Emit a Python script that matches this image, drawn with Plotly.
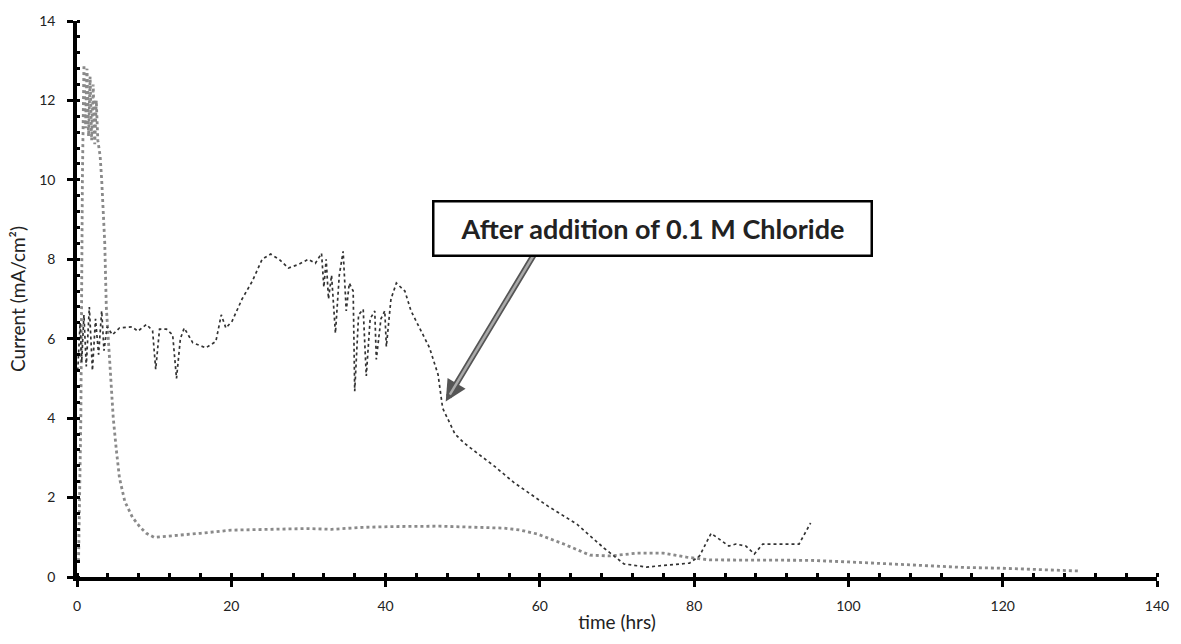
import plotly.graph_objects as go

# Series 1 (gray, initial high peak)
t_gray = [0.2, 0.5, 0.7, 0.9, 1.1, 1.3, 1.5, 1.7, 1.9, 2.1, 2.3, 2.5, 2.7, 3.0, 3.2, 3.6, 3.8, 4.25, 4.7,
          5.1, 5.5, 6.2, 7.2, 8.2, 9.0, 10.0, 11.5, 13, 16, 20, 25, 30, 33, 37, 41, 47, 52,
          55.4, 57.5, 59.7, 63.1, 66.5, 69.1, 72.6, 76, 79, 82, 89, 95, 100, 106, 110, 115,
          120, 125, 130]
i_gray = [0.4, 4.0, 10.0, 12.9, 11.3, 12.8, 11.1, 12.6, 11.0, 12.4, 10.9, 12.0, 11.0, 10.6, 10.0, 8.4, 6.8, 5.3, 4.0,
          3.2, 2.5, 1.9, 1.5, 1.25, 1.1, 1.0, 1.02, 1.05, 1.1, 1.18, 1.2, 1.22, 1.2, 1.25, 1.27, 1.28, 1.25,
          1.23, 1.18, 1.08, 0.83, 0.55, 0.53, 0.6, 0.6, 0.5, 0.43, 0.43, 0.42, 0.38, 0.33, 0.28, 0.24,
          0.22, 0.19, 0.15]

# Series 2 (black, chloride addition)
t_black = [0.1, 0.4, 0.6, 0.9, 1.2, 1.6, 2.0, 2.4, 2.8, 3.2, 3.5, 3.9, 4.6, 5.5, 7.1, 7.9, 9.0, 9.8,
           10.2, 10.7, 11.6, 12.4, 12.9, 13.4, 13.9, 15, 16.7, 18, 18.7, 19.3, 20.1, 21.4, 22.7, 24,
           25.1, 26.2, 27.4, 28.7, 30, 30.9, 31.7, 32.0, 32.3, 32.6, 33.0, 33.5, 34.0, 34.5, 34.9,
           35.3, 35.8, 36.0, 36.5, 37.1, 37.5, 38.0, 38.6, 38.8, 39.4, 39.9, 40.1, 40.7, 41.4, 42.5,
           43.3, 44.6, 45.7, 46.8, 47.4, 49, 50.2, 54.1, 56.7, 61, 64.8, 68.3, 70.9, 73.8, 79.4,
           80.7, 82.2, 84.5, 85.4, 86.7, 87.8, 88.9, 93.6, 95.1]
i_black = [5.2, 6.4, 5.4, 6.6, 5.3, 6.8, 5.2, 6.5, 5.6, 6.7, 5.7, 6.3, 6.1, 6.27, 6.3, 6.19, 6.36, 6.2,
           5.23, 6.24, 6.24, 6.1, 5.0, 6.0, 6.27, 5.9, 5.77, 5.93, 6.6, 6.27, 6.44, 7.0, 7.44, 8.0,
           8.13, 8.0, 7.78, 7.87, 8.0, 7.9, 8.15, 7.3, 8.0, 7.0, 7.6, 6.14, 7.6, 8.2, 6.7,
           7.4, 7.2, 4.68, 6.6, 6.74, 5.06, 6.5, 6.7, 5.48, 6.5, 6.7, 5.8, 7.0, 7.4, 7.2,
           6.7, 6.19, 5.77, 5.1, 4.25, 3.6, 3.37, 2.79, 2.37, 1.79, 1.33, 0.73, 0.33, 0.25, 0.35,
           0.53, 1.1, 0.78, 0.83, 0.78, 0.58, 0.83, 0.83, 1.36]

x_ticks = [0, 20, 40, 60, 80, 100, 120, 140]
y_ticks = [0, 2, 4, 6, 8, 10, 12, 14]

note_text = "After addition of 0.1 M Chloride"
note_pos = (74.6, 8.77)
arrow_tail = (59.4, 8.17)
arrow_head = (47.8, 4.42)

fig = go.Figure()
fig.add_trace(go.Scatter(x=t_gray, y=i_gray, mode="lines",
                         line=dict(color="#8a8a8a", width=2.8, dash="dot"),
                         showlegend=False, hoverinfo="skip"))
fig.add_trace(go.Scatter(x=t_black, y=i_black, mode="lines",
                         line=dict(color="#333333", width=1.7, dash="dot"),
                         showlegend=False, hoverinfo="skip"))

axis_font = dict(family="Lato, Open Sans, sans-serif", size=14, color="#222")
title_font = dict(family="Lato, Open Sans, sans-serif", size=19, color="#222")

fig.update_xaxes(range=[0, 140], tickvals=x_ticks, showgrid=False, zeroline=False,
                 showline=True, linecolor="black", linewidth=3.5,
                 ticks="outside", ticklen=6, tickwidth=3, tickcolor="black",
                 ticklabelstandoff=7,
                 minor=dict(dtick=4, ticks="inside", ticklen=4, tickwidth=3, tickcolor="black"),
                 tickfont=axis_font,
                 title=dict(text="time (hrs)", font=title_font, standoff=4))
fig.update_yaxes(range=[0, 14], tickvals=y_ticks, showgrid=False, zeroline=False,
                 showline=True, linecolor="black", linewidth=3.5,
                 ticks="outside", ticklen=6, tickwidth=3, tickcolor="black",
                 ticklabelstandoff=9,
                 minor=dict(dtick=0.4, ticks="inside", ticklen=3, tickwidth=3, tickcolor="black"),
                 tickfont=axis_font,
                 title=dict(text="Current (mA/cm²)", font=title_font, standoff=10))

fig.add_annotation(x=arrow_head[0], y=arrow_head[1], ax=arrow_tail[0], ay=arrow_tail[1],
                   xref="x", yref="y", axref="x", ayref="y", text="", showarrow=True,
                   arrowhead=2, arrowsize=0.7, arrowwidth=6, arrowcolor="#555")
fig.add_annotation(x=arrow_head[0], y=arrow_head[1], ax=arrow_tail[0], ay=arrow_tail[1],
                   xref="x", yref="y", axref="x", ayref="y", text="", showarrow=True,
                   arrowhead=0, arrowwidth=2.5, arrowcolor="#aaa", standoff=8)
fig.add_annotation(x=note_pos[0], y=note_pos[1], xref="x", yref="y", text="<b>" + note_text + "</b>",
                   showarrow=False, font=dict(family="Lato, Open Sans, sans-serif", size=27, color="#222"),
                   bordercolor="black", borderwidth=2.5, bgcolor="white", width=434, height=50,
                   xanchor="center", yanchor="middle")

fig.update_layout(width=1181, height=644, margin=dict(l=77, r=17, t=20, b=67),
                  plot_bgcolor="white", paper_bgcolor="white")

fig.write_html("out.html")
